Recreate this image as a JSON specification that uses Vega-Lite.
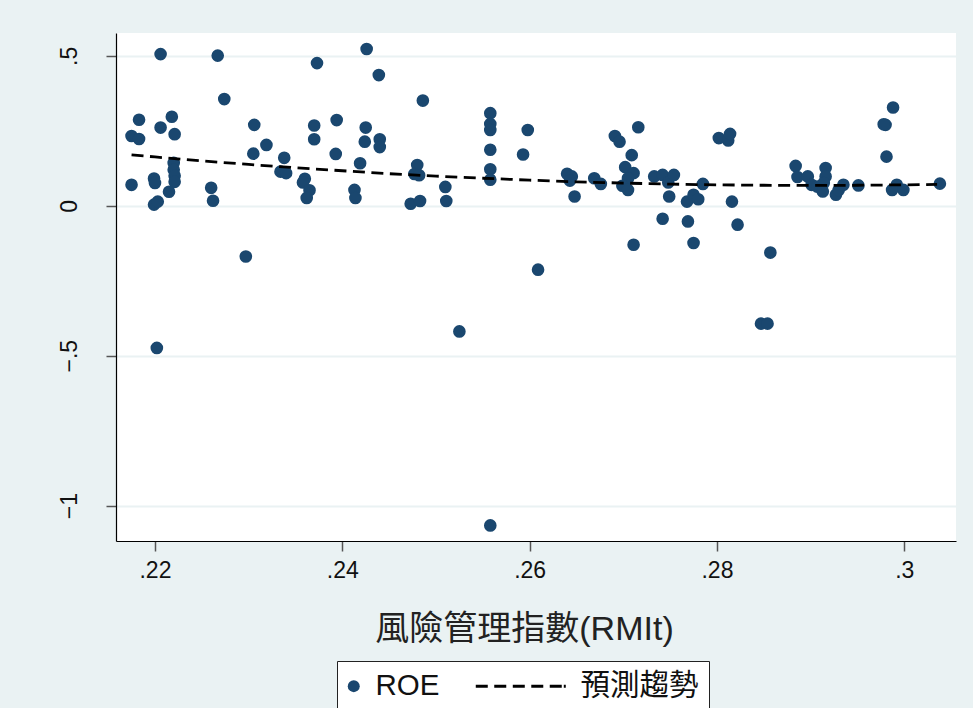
{
  "$schema": "https://vega.github.io/schema/vega-lite/v6.json",
  "width": 840,
  "height": 508,
  "autosize": {"type": "none"},
  "padding": {"left": 116, "top": 33, "right": 17, "bottom": 167},
  "background": "#EAF2F3",
  "config": {
    "view": {"fill": "white", "stroke": null},
    "font": "Liberation Sans, Noto Sans CJK TC"
  },
  "datasets": {
    "pts": [
      {"rmi": 0.2206, "roe": 0.506, "series": "ROE"},
      {"rmi": 0.2267, "roe": 0.501, "series": "ROE"},
      {"rmi": 0.2373, "roe": 0.476, "series": "ROE"},
      {"rmi": 0.2274, "roe": 0.356, "series": "ROE"},
      {"rmi": 0.2183, "roe": 0.287, "series": "ROE"},
      {"rmi": 0.2218, "roe": 0.297, "series": "ROE"},
      {"rmi": 0.2206, "roe": 0.261, "series": "ROE"},
      {"rmi": 0.2175, "roe": 0.233, "series": "ROE"},
      {"rmi": 0.2183, "roe": 0.223, "series": "ROE"},
      {"rmi": 0.2221, "roe": 0.239, "series": "ROE"},
      {"rmi": 0.2306, "roe": 0.270, "series": "ROE"},
      {"rmi": 0.2370, "roe": 0.268, "series": "ROE"},
      {"rmi": 0.2394, "roe": 0.286, "series": "ROE"},
      {"rmi": 0.2370, "roe": 0.222, "series": "ROE"},
      {"rmi": 0.2319, "roe": 0.203, "series": "ROE"},
      {"rmi": 0.2305, "roe": 0.174, "series": "ROE"},
      {"rmi": 0.2393, "roe": 0.173, "series": "ROE"},
      {"rmi": 0.2338, "roe": 0.160, "series": "ROE"},
      {"rmi": 0.2334, "roe": 0.114, "series": "ROE"},
      {"rmi": 0.2340, "roe": 0.109, "series": "ROE"},
      {"rmi": 0.2175, "roe": 0.070, "series": "ROE"},
      {"rmi": 0.2199, "roe": 0.091, "series": "ROE"},
      {"rmi": 0.2200, "roe": 0.076, "series": "ROE"},
      {"rmi": 0.2220, "roe": 0.143, "series": "ROE"},
      {"rmi": 0.2220, "roe": 0.120, "series": "ROE"},
      {"rmi": 0.2221, "roe": 0.100, "series": "ROE"},
      {"rmi": 0.2221, "roe": 0.080, "series": "ROE"},
      {"rmi": 0.2215, "roe": 0.047, "series": "ROE"},
      {"rmi": 0.2199, "roe": 0.004, "series": "ROE"},
      {"rmi": 0.2203, "roe": 0.014, "series": "ROE"},
      {"rmi": 0.2260, "roe": 0.060, "series": "ROE"},
      {"rmi": 0.2262, "roe": 0.017, "series": "ROE"},
      {"rmi": 0.2297, "roe": -0.169, "series": "ROE"},
      {"rmi": 0.2360, "roe": 0.090, "series": "ROE"},
      {"rmi": 0.2358, "roe": 0.078, "series": "ROE"},
      {"rmi": 0.2365, "roe": 0.052, "series": "ROE"},
      {"rmi": 0.2362, "roe": 0.026, "series": "ROE"},
      {"rmi": 0.2426, "roe": 0.523, "series": "ROE"},
      {"rmi": 0.2439, "roe": 0.436, "series": "ROE"},
      {"rmi": 0.2486, "roe": 0.351, "series": "ROE"},
      {"rmi": 0.2425, "roe": 0.261, "series": "ROE"},
      {"rmi": 0.2424, "roe": 0.214, "series": "ROE"},
      {"rmi": 0.2440, "roe": 0.222, "series": "ROE"},
      {"rmi": 0.2440, "roe": 0.196, "series": "ROE"},
      {"rmi": 0.2419, "roe": 0.142, "series": "ROE"},
      {"rmi": 0.2413, "roe": 0.053, "series": "ROE"},
      {"rmi": 0.2414, "roe": 0.026, "series": "ROE"},
      {"rmi": 0.2480, "roe": 0.136, "series": "ROE"},
      {"rmi": 0.2477, "roe": 0.106, "series": "ROE"},
      {"rmi": 0.2482, "roe": 0.102, "series": "ROE"},
      {"rmi": 0.2510, "roe": 0.063, "series": "ROE"},
      {"rmi": 0.2511, "roe": 0.016, "series": "ROE"},
      {"rmi": 0.2473, "roe": 0.007, "series": "ROE"},
      {"rmi": 0.2483, "roe": 0.016, "series": "ROE"},
      {"rmi": 0.2558, "roe": 0.309, "series": "ROE"},
      {"rmi": 0.2558, "roe": 0.273, "series": "ROE"},
      {"rmi": 0.2558, "roe": 0.253, "series": "ROE"},
      {"rmi": 0.2558, "roe": 0.187, "series": "ROE"},
      {"rmi": 0.2558, "roe": 0.122, "series": "ROE"},
      {"rmi": 0.2558, "roe": 0.087, "series": "ROE"},
      {"rmi": 0.2598, "roe": 0.253, "series": "ROE"},
      {"rmi": 0.2593, "roe": 0.171, "series": "ROE"},
      {"rmi": 0.2609, "roe": -0.213, "series": "ROE"},
      {"rmi": 0.2640, "roe": 0.107, "series": "ROE"},
      {"rmi": 0.2645, "roe": 0.098, "series": "ROE"},
      {"rmi": 0.2643, "roe": 0.084, "series": "ROE"},
      {"rmi": 0.2648, "roe": 0.031, "series": "ROE"},
      {"rmi": 0.2669, "roe": 0.092, "series": "ROE"},
      {"rmi": 0.2676, "roe": 0.073, "series": "ROE"},
      {"rmi": 0.2691, "roe": 0.233, "series": "ROE"},
      {"rmi": 0.2696, "roe": 0.214, "series": "ROE"},
      {"rmi": 0.2716, "roe": 0.262, "series": "ROE"},
      {"rmi": 0.2709, "roe": 0.169, "series": "ROE"},
      {"rmi": 0.2702, "roe": 0.129, "series": "ROE"},
      {"rmi": 0.2711, "roe": 0.109, "series": "ROE"},
      {"rmi": 0.2705, "roe": 0.092, "series": "ROE"},
      {"rmi": 0.2699, "roe": 0.067, "series": "ROE"},
      {"rmi": 0.2705, "roe": 0.053, "series": "ROE"},
      {"rmi": 0.2711, "roe": -0.130, "series": "ROE"},
      {"rmi": 0.2733, "roe": 0.098, "series": "ROE"},
      {"rmi": 0.2742, "roe": 0.103, "series": "ROE"},
      {"rmi": 0.2748, "roe": 0.078, "series": "ROE"},
      {"rmi": 0.2754, "roe": 0.103, "series": "ROE"},
      {"rmi": 0.2749, "roe": 0.031, "series": "ROE"},
      {"rmi": 0.2742, "roe": -0.043, "series": "ROE"},
      {"rmi": 0.2768, "roe": 0.014, "series": "ROE"},
      {"rmi": 0.2775, "roe": 0.037, "series": "ROE"},
      {"rmi": 0.2780, "roe": 0.022, "series": "ROE"},
      {"rmi": 0.2769, "roe": -0.052, "series": "ROE"},
      {"rmi": 0.2775, "roe": -0.124, "series": "ROE"},
      {"rmi": 0.2785, "roe": 0.073, "series": "ROE"},
      {"rmi": 0.2802, "roe": 0.226, "series": "ROE"},
      {"rmi": 0.2812, "roe": 0.218, "series": "ROE"},
      {"rmi": 0.2814, "roe": 0.240, "series": "ROE"},
      {"rmi": 0.2816, "roe": 0.014, "series": "ROE"},
      {"rmi": 0.2822, "roe": -0.063, "series": "ROE"},
      {"rmi": 0.2857, "roe": -0.156, "series": "ROE"},
      {"rmi": 0.2884, "roe": 0.133, "series": "ROE"},
      {"rmi": 0.2886, "roe": 0.096, "series": "ROE"},
      {"rmi": 0.2897, "roe": 0.098, "series": "ROE"},
      {"rmi": 0.2901, "roe": 0.070, "series": "ROE"},
      {"rmi": 0.2907, "roe": 0.064, "series": "ROE"},
      {"rmi": 0.2913, "roe": 0.048, "series": "ROE"},
      {"rmi": 0.2916, "roe": 0.126, "series": "ROE"},
      {"rmi": 0.2916, "roe": 0.098, "series": "ROE"},
      {"rmi": 0.2914, "roe": 0.076, "series": "ROE"},
      {"rmi": 0.2927, "roe": 0.037, "series": "ROE"},
      {"rmi": 0.2930, "roe": 0.053, "series": "ROE"},
      {"rmi": 0.2935, "roe": 0.070, "series": "ROE"},
      {"rmi": 0.2951, "roe": 0.068, "series": "ROE"},
      {"rmi": 0.2980, "roe": 0.270, "series": "ROE"},
      {"rmi": 0.2978, "roe": 0.272, "series": "ROE"},
      {"rmi": 0.2988, "roe": 0.328, "series": "ROE"},
      {"rmi": 0.2981, "roe": 0.164, "series": "ROE"},
      {"rmi": 0.2987, "roe": 0.053, "series": "ROE"},
      {"rmi": 0.2992, "roe": 0.070, "series": "ROE"},
      {"rmi": 0.2999, "roe": 0.053, "series": "ROE"},
      {"rmi": 0.3038, "roe": 0.074, "series": "ROE"},
      {"rmi": 0.2202, "roe": -0.474, "series": "ROE"},
      {"rmi": 0.2525, "roe": -0.419, "series": "ROE"},
      {"rmi": 0.2558, "roe": -1.066, "series": "ROE"},
      {"rmi": 0.2847, "roe": -0.393, "series": "ROE"},
      {"rmi": 0.2854, "roe": -0.393, "series": "ROE"}
    ],
    "fit": [
      {"rmi": 0.2175, "roe": 0.170},
      {"rmi": 0.220, "roe": 0.163},
      {"rmi": 0.225, "roe": 0.150},
      {"rmi": 0.230, "roe": 0.138},
      {"rmi": 0.235, "roe": 0.127},
      {"rmi": 0.240, "roe": 0.117},
      {"rmi": 0.245, "roe": 0.107},
      {"rmi": 0.250, "roe": 0.099},
      {"rmi": 0.255, "roe": 0.092},
      {"rmi": 0.260, "roe": 0.0855},
      {"rmi": 0.265, "roe": 0.080},
      {"rmi": 0.270, "roe": 0.0758},
      {"rmi": 0.275, "roe": 0.0724},
      {"rmi": 0.280, "roe": 0.070},
      {"rmi": 0.285, "roe": 0.0685},
      {"rmi": 0.290, "roe": 0.068},
      {"rmi": 0.295, "roe": 0.0685},
      {"rmi": 0.300, "roe": 0.070},
      {"rmi": 0.3035, "roe": 0.0715}
    ]
  },
  "encoding": {
    "x": {
      "field": "rmi",
      "type": "quantitative",
      "scale": {"domain": [0.21584, 0.30552], "nice": false, "zero": false},
      "axis": {
        "title": "風險管理指數(RMIt)",
        "values": [0.22, 0.24, 0.26, 0.28, 0.30],
        "labelExpr": "replace(format(datum.value, '.2~f'), '0.', '.')",
        "grid": false,
        "domainColor": "#000000",
        "domainWidth": 1.2,
        "tickColor": "#555555",
        "tickSize": 10,
        "tickWidth": 1.5,
        "labelFont": "Liberation Sans",
        "labelFontSize": 23,
        "labelColor": "#111111",
        "labelPadding": 26.7,
        "labelBaseline": "alphabetic",
        "labelFlush": false,
        "titleFont": "Liberation Sans, Noto Sans CJK TC",
        "titleFontSize": 34,
        "titleFontWeight": "normal",
        "titleColor": "#222222",
        "titleX": 408,
        "titleY": 98,
        "titleAlign": "center",
        "titleBaseline": "alphabetic"
      }
    },
    "y": {
      "field": "roe",
      "type": "quantitative",
      "scale": {"domain": [-1.118, 0.5764], "nice": false, "zero": false},
      "axis": {
        "title": null,
        "values": [-1, -0.5, 0, 0.5],
        "labelExpr": "replace(format(datum.value, '.1~f'), '0.', '.')",
        "grid": true,
        "gridColor": "#EAF2F3",
        "gridWidth": 2,
        "domainColor": "#000000",
        "domainWidth": 1.2,
        "tickColor": "#555555",
        "tickSize": 10,
        "tickWidth": 1.5,
        "labelFont": "Liberation Sans",
        "labelFontSize": 23,
        "labelColor": "#111111",
        "labelAngle": 270,
        "labelAlign": "center",
        "labelBaseline": "alphabetic",
        "labelPadding": 29.3,
        "labelFlush": false
      }
    }
  },
  "layer": [
    {
      "data": {"name": "pts"},
      "mark": {"type": "point", "filled": true, "opacity": 1, "size": 160},
      "encoding": {
        "color": {
          "field": "series",
          "type": "nominal",
          "scale": {"domain": ["ROE", "預測趨勢"], "range": ["#1a476f", "#000000"]},
          "legend": {
            "title": null,
            "orient": "none",
            "legendX": 221,
            "legendY": 628,
            "direction": "horizontal",
            "fillColor": "white",
            "strokeColor": "#222222",
            "padding": 10,
            "labelFont": "Liberation Sans, Noto Sans CJK TC",
            "labelFontSize": 29.5,
            "labelColor": "#111111",
            "labelOffset": 7,
            "symbolOffset": -8,
            "symbolSize": 144,
            "symbolStrokeWidth": 0,
            "symbolOpacity": 1,
            "columnPadding": 35
          }
        },
        "shape": {
          "field": "series",
          "type": "nominal",
          "scale": {
            "domain": ["ROE", "預測趨勢"],
            "range": ["circle", "M-13.83,-0.25H-11.83V0.25H-13.83Z M-10.75,-0.25H-8.75V0.25H-10.75Z M-7.66,-0.25H-5.66V0.25H-7.66Z M-4.58,-0.25H-2.58V0.25H-4.58Z M-1.5,-0.25H0.5V0.25H-1.5Z M0.84,-0.25H1.17V0.25H0.84Z"]
          }
        }
      }
    },
    {
      "data": {"name": "fit"},
      "mark": {"type": "line", "color": "#000000", "strokeWidth": 2.8, "strokeDash": [12, 6.5]},
      "encoding": {}
    }
  ]
}
